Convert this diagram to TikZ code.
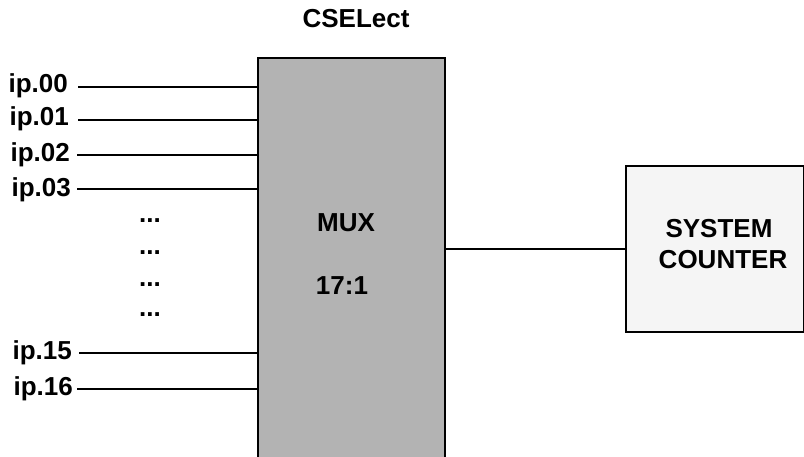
\documentclass[tikz,border=0pt]{standalone}
\usepackage{fontspec}
\setmainfont{Liberation Sans}
\definecolor{muxgray}{HTML}{B3B3B3}
\definecolor{ctrfill}{HTML}{F5F5F5}
\tikzset{
  lbl/.style={inner sep=0pt, font=\fontsize{26bp}{30bp}\selectfont\bfseries},
  wire/.style={line width=1.8bp},
  blockbox/.style={draw, line width=2bp, inner sep=0pt},
}
\begin{document}
\begin{tikzpicture}[x=1bp,y=-1bp]
\clip (0,0) rectangle (804,457);
\fill[white] (0,0) rectangle (804,457);
% MUX block
\node[blockbox, fill=muxgray, minimum width=187bp, minimum height=410bp, anchor=north west] (mux) at (257,57) {};
\node[lbl, anchor=base] (cselect) at (356,28) {CSELect};
\node[lbl, anchor=base] (muxt) at (346,232) {MUX};
\node[lbl, anchor=base] (ratio) at (342,295) {17:1};
% system counter
\node[blockbox, fill=ctrfill, minimum width=178bp, minimum height=166bp, anchor=north west] (ctr) at (625,165) {};
\node[lbl, anchor=base] (ctr1) at (719,238) {SYSTEM};
\node[lbl, anchor=base] (ctr2) at (723,269) {COUNTER};
\coordinate (ctrin) at (625,249);
\draw[wire] (ctrin) -- (ctrin -| mux.east);
% inputs
\node[lbl, anchor=base east] (l00) at (68,93) {ip.00};
\node[lbl, anchor=base east] (l01) at (69,126) {ip.01};
\node[lbl, anchor=base east] (l02) at (70,162) {ip.02};
\node[lbl, anchor=base east] (l03) at (71,197) {ip.03};
\node[lbl, anchor=base east] (l15) at (72,360) {ip.15};
\node[lbl, anchor=base east] (l16) at (73,395) {ip.16};
\coordinate (w00) at (78,87);
\coordinate (w01) at (78,120);
\coordinate (w02) at (77,155);
\coordinate (w03) at (77,189);
\coordinate (w15) at (79,353);
\coordinate (w16) at (77,389);
\foreach \w in {w00,w01,w02,w03,w15,w16}{
  \draw[wire] (\w) -- (\w -| mux.west);
}
% dots
\node[lbl, anchor=base] (d1) at (150,223) {...};
\node[lbl, anchor=base] (d2) at (150,255) {...};
\node[lbl, anchor=base] (d3) at (150,287) {...};
\node[lbl, anchor=base] (d4) at (150,317) {...};
\end{tikzpicture}
\end{document}
